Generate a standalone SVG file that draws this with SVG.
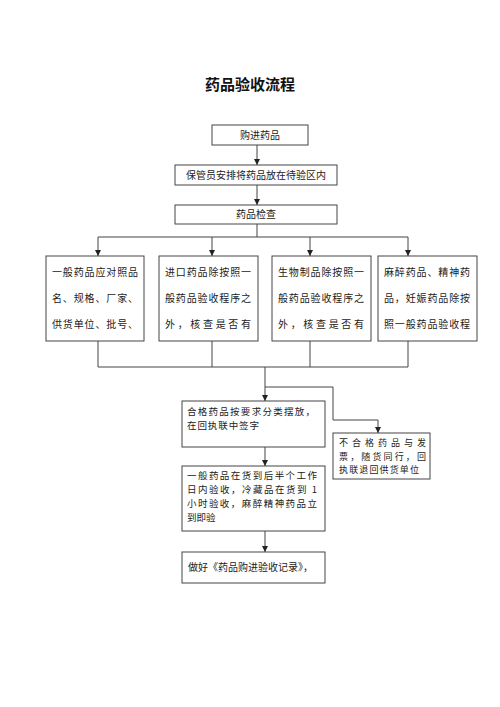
<svg xmlns="http://www.w3.org/2000/svg" width="500" height="707" viewBox="0 0 500 707">
<style>
.bg{fill:#ffffff}
.box{fill:#ffffff;stroke:#444444;stroke-width:1}
.ln{fill:none;stroke:#444444;stroke-width:1}
.t{font-family:"Noto Sans CJK SC","Liberation Sans",sans-serif;font-size:10px;fill:#222222}
.s{font-size:9.5px}
.xs{font-size:9px}
.c{text-anchor:middle}
.title{font-family:"Noto Sans CJK SC","Liberation Sans",sans-serif;font-size:15px;font-weight:bold;fill:#111111;text-anchor:middle}
</style>
<defs>
<marker id="arr" markerUnits="userSpaceOnUse" markerWidth="6" markerHeight="6" refX="6" refY="3" orient="auto">
<path d="M0,0 L6,3 L0,6 z" fill="#222222"/>
</marker>
</defs>
<rect class="bg" x="0" y="0" width="500" height="707"/>
<text class="title" x="250" y="90">药品验收流程</text>

<g id="connectors">
<line class="ln" x1="257" y1="145" x2="257" y2="165" marker-end="url(#arr)"/>
<line class="ln" x1="257" y1="185" x2="257" y2="205" marker-end="url(#arr)"/>
<line class="ln" x1="257" y1="224" x2="257" y2="237"/>
<line class="ln" x1="98" y1="237" x2="408" y2="237"/>
<line class="ln" x1="98" y1="237" x2="98" y2="256" marker-end="url(#arr)"/>
<line class="ln" x1="212" y1="237" x2="212" y2="256" marker-end="url(#arr)"/>
<line class="ln" x1="310" y1="237" x2="310" y2="256" marker-end="url(#arr)"/>
<line class="ln" x1="408" y1="237" x2="408" y2="256" marker-end="url(#arr)"/>
<line class="ln" x1="98" y1="341" x2="98" y2="367"/>
<line class="ln" x1="212" y1="341" x2="212" y2="367"/>
<line class="ln" x1="310" y1="341" x2="310" y2="367"/>
<line class="ln" x1="408" y1="341" x2="408" y2="367"/>
<line class="ln" x1="98" y1="367" x2="408" y2="367"/>
<line class="ln" x1="265" y1="367" x2="265" y2="401" marker-end="url(#arr)"/>
<polyline class="ln" points="265,387 333,387 333,420 378,420 378,433" marker-end="url(#arr)"/>
<line class="ln" x1="265" y1="447" x2="265" y2="466" marker-end="url(#arr)"/>
<line class="ln" x1="265" y1="531" x2="265" y2="552" marker-end="url(#arr)"/>
</g>

<g id="n1">
<rect class="box" x="212" y="125" width="96" height="20"/>
<text class="t c" x="260" y="139">购进药品</text>
</g>
<g id="n2">
<rect class="box" x="175" y="165" width="162" height="20"/>
<text class="t c" x="256" y="179">保管员安排将药品放在待验区内</text>
</g>
<g id="n3">
<rect class="box" x="175" y="205" width="162" height="19"/>
<text class="t c" x="256" y="218">药品检查</text>
</g>

<g id="n4">
<rect class="box" x="46" y="256" width="98" height="85"/>
<text class="t" x="52" y="276" textLength="86" lengthAdjust="spacing">一般药品应对照品</text>
<text class="t" x="52" y="302" textLength="86" lengthAdjust="spacing">名、规格、厂家、</text>
<text class="t" x="52" y="328" textLength="86" lengthAdjust="spacing">供货单位、批号、</text>
</g>
<g id="n5">
<rect class="box" x="159" y="256" width="99" height="85"/>
<text class="t" x="165" y="276" textLength="86" lengthAdjust="spacing">进口药品除按照一</text>
<text class="t" x="165" y="302" textLength="86" lengthAdjust="spacing">般药品验收程序之</text>
<text class="t" x="165" y="328" textLength="86" lengthAdjust="spacing">外，核查是否有</text>
</g>
<g id="n6">
<rect class="box" x="272" y="256" width="99" height="85"/>
<text class="t" x="278" y="276" textLength="86" lengthAdjust="spacing">生物制品除按照一</text>
<text class="t" x="278" y="302" textLength="86" lengthAdjust="spacing">般药品验收程序之</text>
<text class="t" x="278" y="328" textLength="86" lengthAdjust="spacing">外，核查是否有</text>
</g>
<g id="n7">
<rect class="box" x="378" y="256" width="99" height="85"/>
<text class="t" x="384" y="276" textLength="86" lengthAdjust="spacing">麻醉药品、精神药</text>
<text class="t" x="384" y="302" textLength="86" lengthAdjust="spacing">品，妊娠药品除按</text>
<text class="t" x="384" y="328" textLength="86" lengthAdjust="spacing">照一般药品验收程</text>
</g>

<g id="n8">
<rect class="box" x="182" y="401" width="143" height="46"/>
<text class="t s" x="187" y="415" textLength="128" lengthAdjust="spacing">合格药品按要求分类摆放，</text>
<text class="t s" x="187" y="429" textLength="72" lengthAdjust="spacing">在回执联中签字</text>
</g>
<g id="n9">
<rect class="box" x="333" y="433" width="97" height="46"/>
<text class="t xs" x="339" y="446" textLength="87" lengthAdjust="spacing">不合格药品与发</text>
<text class="t xs" x="339" y="459.5" textLength="87" lengthAdjust="spacing">票，随货同行，回</text>
<text class="t xs" x="339" y="473" textLength="80" lengthAdjust="spacing">执联退回供货单位</text>
</g>
<g id="n10">
<rect class="box" x="182" y="466" width="143" height="65"/>
<text class="t s" x="187" y="479" textLength="130" lengthAdjust="spacing">一般药品在货到后半个工作</text>
<text class="t s" x="187" y="493" textLength="130" lengthAdjust="spacing">日内验收，冷藏品在货到 1</text>
<text class="t s" x="187" y="507" textLength="130" lengthAdjust="spacing">小时验收，麻醉精神药品立</text>
<text class="t s" x="187" y="521">到即验</text>
</g>
<g id="n11">
<rect class="box" x="182" y="552" width="143" height="31"/>
<text class="t" x="188" y="571">做好《药品购进验收记录》，</text>
</g>
</svg>
